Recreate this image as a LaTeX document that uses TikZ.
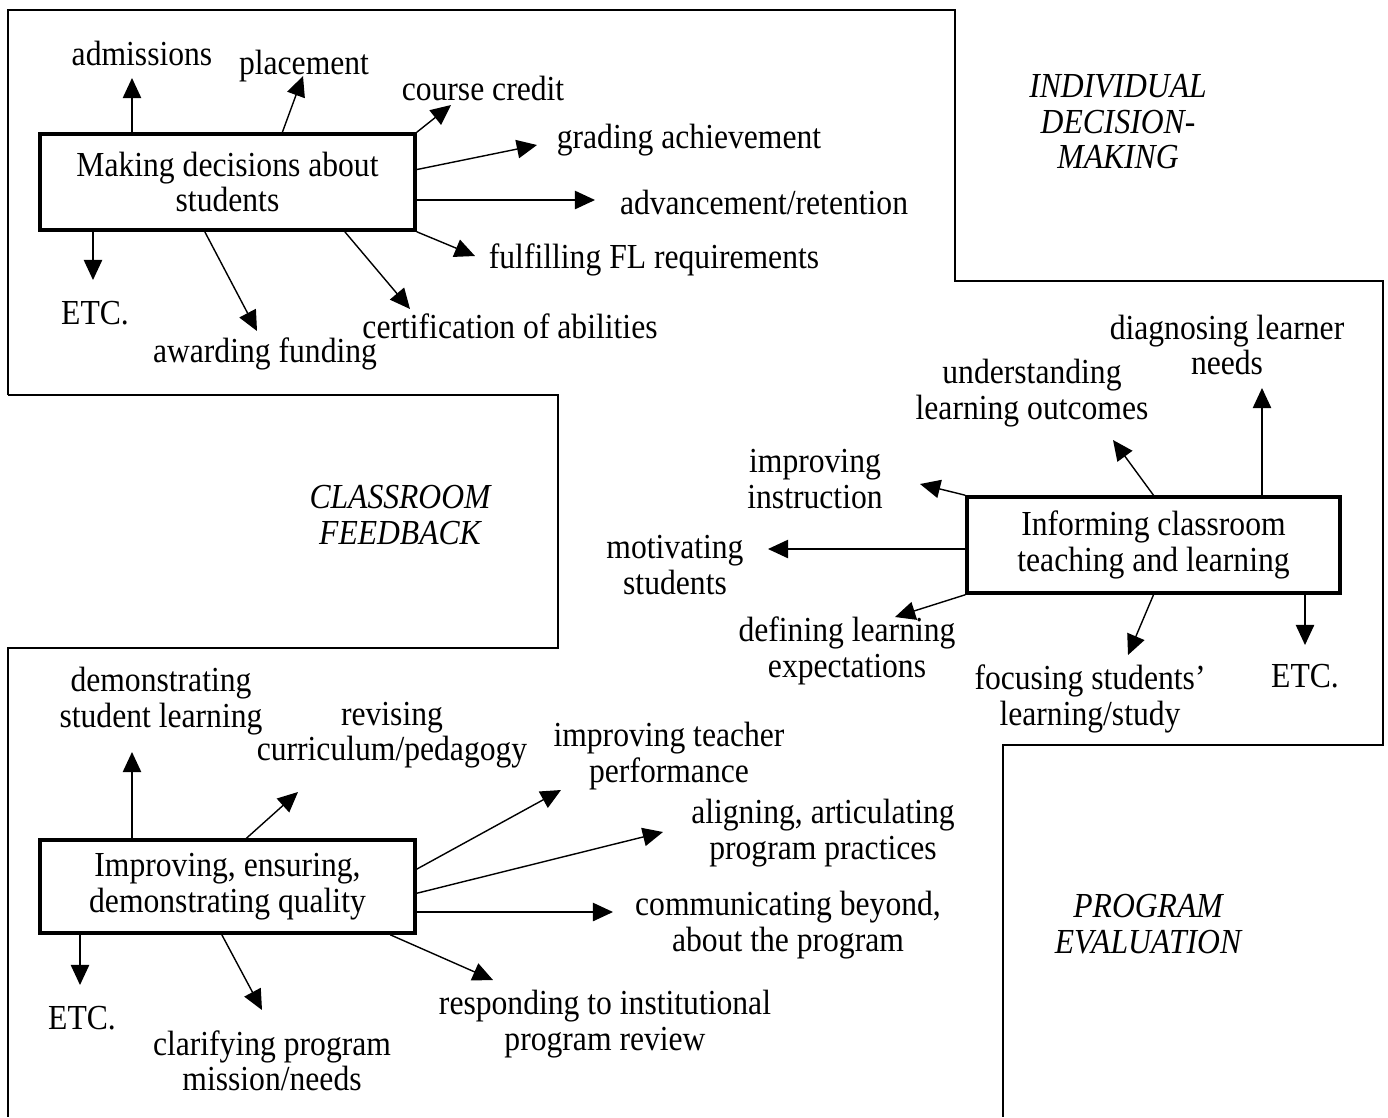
\documentclass[tikz,border=0pt]{standalone}
\usepackage{fontspec}
\setmainfont[FakeStretch=0.9]{Liberation Serif}
\usetikzlibrary{arrows.meta,calc}

\begin{document}
\begin{tikzpicture}[x=0.02cm, y=-0.02cm,
	every node/.style={font=\fontsize{20}{20.2}\selectfont},
	>={Triangle[length=11.5pt, width=10.5pt]},
	box/.style={draw, line width=2pt, minimum width=7.5cm, minimum height=1.92cm, align=center, inner sep=0pt},
	lbl/.style={align=center, inner sep=0pt},
	zone/.style={align=center, inner sep=0pt, font=\fontsize{20}{20.2}\selectfont\itshape},
	frame/.style={line width=0.9pt},
	arr/.style={->, line width=0.8pt}]
	\useasboundingbox (0,0) rectangle (1388,1117);

	% region outlines
	\draw[frame] (8,395) -- (8,10) -- (955,10) -- (955,281) -- (1383,281) -- (1383,745) -- (1003,745) -- (1003,1117);
	\draw[frame] (8,395) -- (558,395) -- (558,648) -- (8,648) -- (8,1117);

	\node[zone] (zInd) at (1118,122) {INDIVIDUAL\\DECISION-\\MAKING};
	\node[zone] (zCls) at (400,515) {CLASSROOM\\FEEDBACK};
	\node[zone] (zPrg) at (1148,924) {PROGRAM\\EVALUATION};

	% decisions about students
	\node[box] (mk) at (227.5,182) {Making decisions about\\students};
	\node[lbl] (admit) at (142,53) {admissions};
	\node[lbl] (place) at (304,66) {placement};
	\node[lbl] (credit) at (483,88) {course credit};
	\node[lbl] (grade) at (689,140) {grading achievement};
	\node[lbl] (adv) at (764,202) {advancement/retention};
	\node[lbl] (fl) at (654,260) {fulfilling FL requirements};
	\node[lbl] (cert) at (510,326) {certification of abilities};
	\node[lbl] (fund) at (265,354) {awarding funding};
	\node[lbl] (etcA) at (95,313) {ETC.};
	\coordinate (tAdmit) at (132,78);
	\coordinate (tPlace) at (303,76);
	\coordinate (tCredit) at (451,105);
	\coordinate (tGrade) at (537,145);
	\coordinate (tAdv) at (595,200);
	\coordinate (tFl) at (475,256);
	\coordinate (tCert) at (410,309);
	\coordinate (tFund) at (257,331);
	\coordinate (tEtcA) at (93,280);
	\draw[arr] (mk.north -| tAdmit) -- (tAdmit);
	\draw[arr] ($(mk.north west)!0.645!(mk.north east)$) -- (tPlace);
	\draw[arr] (mk.north east) -- (tCredit);
	\draw[arr] ($(mk.north east)!0.375!(mk.south east)$) -- (tGrade);
	\draw[arr] (tAdv -| mk.east) -- (tAdv);
	\draw[arr] (mk.south east) -- (tFl);
	\draw[arr] ($(mk.south west)!0.81!(mk.south east)$) -- (tCert);
	\draw[arr] ($(mk.south west)!0.44!(mk.south east)$) -- (tFund);
	\draw[arr] (mk.south -| tEtcA) -- (tEtcA);

	% classroom teaching and learning
	\node[box, minimum width=7.46cm] (inf) at (1153.5,545) {Informing classroom\\teaching and learning};
	\node[lbl] (diag) at (1227,345) {diagnosing learner\\needs};
	\node[lbl] (under) at (1032,393) {understanding\\learning outcomes};
	\node[lbl] (instr) at (815,479) {improving\\instruction};
	\node[lbl] (motiv) at (675,565) {motivating\\students};
	\node[lbl] (expect) at (847,651) {defining learning\\expectations};
	\node[lbl] (focus) at (1090,699) {focusing students'\\learning/study};
	\node[lbl] (etcB) at (1305,676) {ETC.};
	\coordinate (tDiag) at (1262,388);
	\coordinate (tUnder) at (1113,440);
	\coordinate (tInstr) at (920,484);
	\coordinate (tMotiv) at (768,549);
	\coordinate (tExpect) at (895,617);
	\coordinate (tFocus) at (1128,655);
	\coordinate (tEtcB) at (1305,645);
	\draw[arr] (inf.north -| tDiag) -- (tDiag);
	\draw[arr] (inf.north) -- (tUnder);
	\draw[arr] (inf.north west) -- (tInstr);
	\draw[arr] (tMotiv -| inf.west) -- (tMotiv);
	\draw[arr] (inf.south west) -- (tExpect);
	\draw[arr] (inf.south) -- (tFocus);
	\draw[arr] (inf.south -| tEtcB) -- (tEtcB);

	% program quality
	\node[box, minimum height=1.86cm] (qual) at (227.5,886.5) {Improving, ensuring,\\demonstrating quality};
	\node[lbl] (demo) at (161,701) {demonstrating\\student learning};
	\node[lbl] (revise) at (392,735) {revising\\curriculum/pedagogy};
	\node[lbl] (teach) at (669,756) {improving teacher\\performance};
	\node[lbl] (align) at (823,833) {aligning, articulating\\program practices};
	\node[lbl] (comm) at (788,925) {communicating beyond,\\about the program};
	\node[lbl] (review) at (605,1024) {responding to institutional\\program review};
	\node[lbl] (mission) at (272,1061) {clarifying program\\mission/needs};
	\node[lbl] (etcC) at (82,1018) {ETC.};
	\coordinate (tDemo) at (132,752);
	\coordinate (tRevise) at (298,792);
	\coordinate (tTeach) at (561,790);
	\coordinate (tAlign) at (663,832);
	\coordinate (tComm) at (613,912);
	\coordinate (tReview) at (493,980);
	\coordinate (tMission) at (262,1010);
	\coordinate (tEtcC) at (80,985);
	\draw[arr] (qual.north -| tDemo) -- (tDemo);
	\draw[arr] ($(qual.north west)!0.55!(qual.north east)$) -- (tRevise);
	\draw[arr] ($(qual.north east)!0.32!(qual.south east)$) -- (tTeach);
	\draw[arr] ($(qual.north east)!0.57!(qual.south east)$) -- (tAlign);
	\draw[arr] (tComm -| qual.east) -- (tComm);
	\draw[arr] ($(qual.south west)!0.93!(qual.south east)$) -- (tReview);
	\draw[arr] ($(qual.south west)!0.485!(qual.south east)$) -- (tMission);
	\draw[arr] (qual.south -| tEtcC) -- (tEtcC);
\end{tikzpicture}
\end{document}
